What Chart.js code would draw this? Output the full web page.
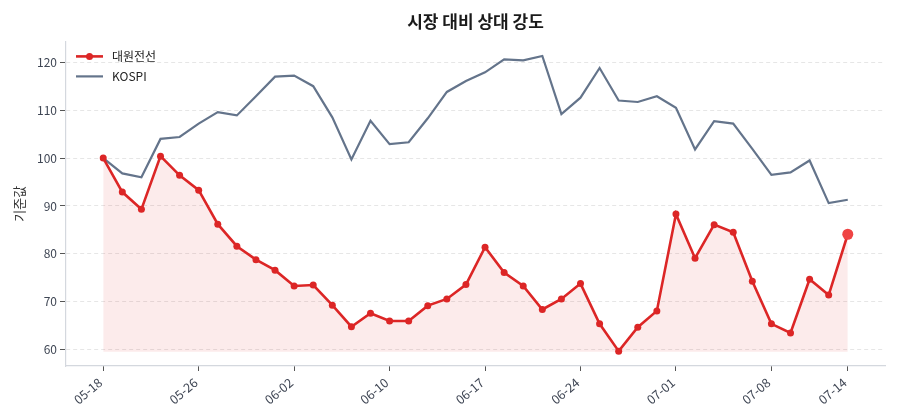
<!DOCTYPE html>
<html>
<head>
<meta charset="utf-8">
<script src="https://cdn.jsdelivr.net/npm/chart.js@4"></script>
<style>
  html, body { margin: 0; padding: 0; background: #fff; }
  #wrap { width: 900px; height: 420px; }
</style>
</head>
<body>
<div id="wrap"><canvas id="grafico"></canvas></div>
<script>
const datas = [
    "05-18", "05-19", "05-20", "05-21", "05-22", "05-26", "05-27", "05-28", "05-29", "05-30",
    "06-02", "06-03", "06-04", "06-05", "06-09", "06-10", "06-11", "06-12", "06-13", "06-16",
    "06-17", "06-18", "06-19", "06-20", "06-23", "06-24", "06-25", "06-26", "06-27", "06-30",
    "07-01", "07-02", "07-03", "07-04", "07-07", "07-08", "07-09", "07-10", "07-11", "07-14"
];

const acao = [
    100.0, 92.9, 89.3, 100.4, 96.4, 93.3, 86.2, 81.6, 78.8, 76.6,
    73.3, 73.5, 69.3, 64.8, 67.6, 66.0, 66.0, 69.2, 70.6, 73.6,
    81.4, 76.1, 73.3, 68.4, 70.6, 73.8, 65.4, 59.7, 64.7, 68.1,
    88.3, 79.1, 86.1, 84.5, 74.3, 65.4, 63.5, 74.7, 71.4, 84.1
];

const kospi = [
    100.0, 96.8, 96.0, 104.0, 104.4, 107.2, 109.6, 108.9, 112.9, 117.0,
    117.2, 115.0, 108.5, 99.7, 107.8, 102.9, 103.3, 108.3, 113.8, 116.1,
    117.9, 120.6, 120.4, 121.3, 109.2, 112.6, 118.8, 112.0, 111.7, 112.9,
    110.5, 101.8, 107.7, 107.2, 101.9, 96.5, 97.0, 99.5, 90.6, 91.3
];

const ticksX = [0, 5, 10, 15, 20, 25, 30, 35, 39];
const ticksY = [60, 70, 80, 90, 100, 110, 120];

const VERMELHO = "#dc2626";
const CINZA = "#64748b";
const FONTE = "'Noto Sans CJK KR', 'Noto Sans', sans-serif";

const ultimo = acao.length - 1;
const pisoArea = Math.min(...acao) - 0.1;

// Legenda desenhada dentro da área do gráfico (canto superior esquerdo)
const legendaInterna = {
    id: 'legendaInterna',
    afterDatasetsDraw(chart) {
        const { ctx, chartArea } = chart;
        ctx.save();
        ctx.font = `12px ${FONTE}`;
        ctx.textBaseline = 'middle';
        chart.data.datasets.forEach((ds, i) => {
            const x = chartArea.left + 10;
            const y = chartArea.top + 15 + i * 20;
            ctx.strokeStyle = ds.borderColor;
            ctx.lineWidth = ds.borderWidth;
            ctx.beginPath();
            ctx.moveTo(x, y);
            ctx.lineTo(x + 27, y);
            ctx.stroke();
            if (i === 0) {
                ctx.fillStyle = ds.borderColor;
                ctx.beginPath();
                ctx.arc(x + 13.5, y, 3.5, 0, Math.PI * 2);
                ctx.fill();
            }
            ctx.fillStyle = '#222';
            ctx.fillText(ds.label, x + 36, y);
        });
        ctx.restore();
    }
};

new Chart(document.getElementById('grafico').getContext('2d'), {
    type: 'line',
    data: {
        datasets: [
            {
                label: '대원전선',
                data: acao.map((v, i) => ({ x: i, y: v })),
                borderColor: VERMELHO,
                backgroundColor: 'rgba(220, 38, 38, 0.09)',
                borderWidth: 2.6,
                pointRadius: acao.map((_, i) => i === ultimo ? 5.5 : 3.5),
                pointBackgroundColor: acao.map((_, i) => i === ultimo ? '#ef4444' : VERMELHO),
                pointBorderWidth: 0,
                fill: { value: pisoArea },
                tension: 0,
                order: 1
            },
            {
                label: 'KOSPI',
                data: kospi.map((v, i) => ({ x: i, y: v })),
                borderColor: CINZA,
                borderWidth: 2.2,
                pointRadius: 0,
                fill: false,
                tension: 0,
                order: 2
            }
        ]
    },
    plugins: [legendaInterna],
    options: {
        responsive: true,
        maintainAspectRatio: false,
        animation: false,
        layout: { padding: { left: 0, right: 15, top: 0, bottom: 4 } },
        plugins: {
            title: {
                display: true,
                text: '시장 대비 상대 강도',
                fullSize: false,
                color: '#1a1a1a',
                font: { family: FONTE, size: 17, weight: 'bold' },
                padding: { top: 11, bottom: 10 }
            },
            legend: { display: false },
            tooltip: { enabled: false }
        },
        scales: {
            x: {
                type: 'linear',
                min: -1.95,
                max: 40.95,
                afterBuildTicks: (s) => { s.ticks = ticksX.map(v => ({ value: v })); },
                afterFit: (s) => { s.height = 50; },
                grid: {
                    drawOnChartArea: false,
                    drawTicks: true,
                    tickLength: 5,
                    tickColor: '#555',
                    tickWidth: 1
                },
                border: { color: '#d4d8de', width: 1.2 },
                ticks: {
                    minRotation: 40,
                    maxRotation: 40,
                    color: '#3f4654',
                    padding: 4,
                    labelOffset: -3,
                    font: { family: FONTE, size: 12.5 },
                    callback: (v) => datas[v]
                }
            },
            y: {
                min: 56.6,
                max: 124.35,
                afterBuildTicks: (s) => { s.ticks = ticksY.map(v => ({ value: v })); },
                afterFit: (s) => { s.width = 66; },
                grid: {
                    color: '#e6e6e6',
                    lineWidth: 1,
                    tickLength: 6,
                    tickColor: '#555',
                    tickBorderDash: []
                },
                border: { color: '#d4d8de', width: 1.2, dash: [4, 3] },
                ticks: {
                    color: '#3f4654',
                    padding: 3,
                    font: { family: FONTE, size: 12 }
                },
                title: {
                    display: true,
                    text: '기준값',
                    color: '#333',
                    font: { family: FONTE, size: 13 },
                    padding: { top: 11, bottom: 0 }
                }
            }
        }
    }
});
</script>
</body>
</html>
